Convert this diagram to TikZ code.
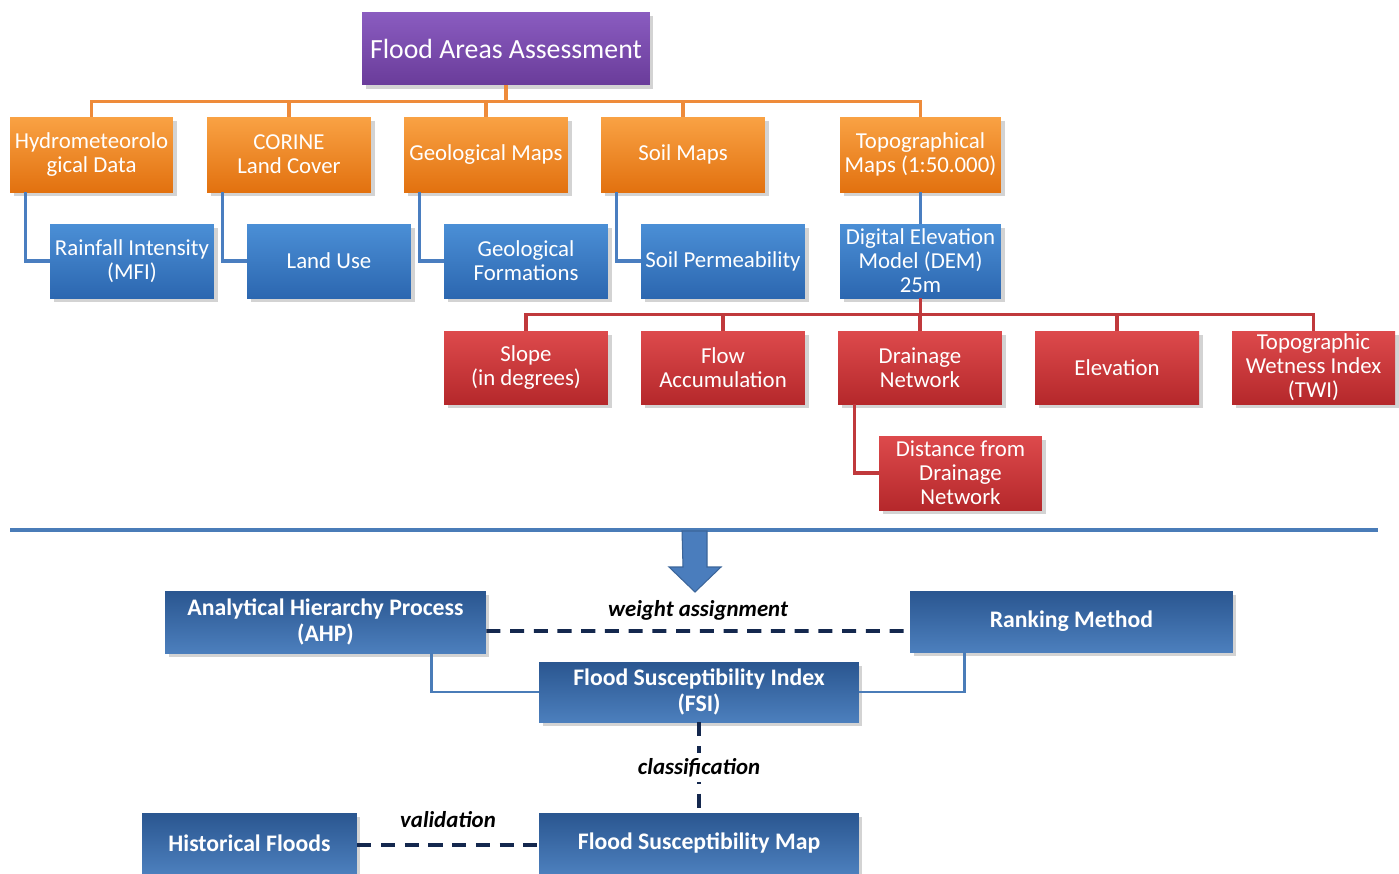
\documentclass[tikz,border=0pt]{standalone}
\usepackage{fontspec}
\setmainfont{Carlito}
\usepackage{tikz}
\usetikzlibrary{positioning, calc, shadows}
\definecolor{plumtop}{HTML}{8A5CC0}
\definecolor{plumbot}{HTML}{6A3C9A}
\definecolor{orgtop}{HTML}{F9A244}
\definecolor{orgbot}{HTML}{E2710F}
\definecolor{orgline}{HTML}{EE8B3A}
\definecolor{skytop}{HTML}{4B8FD6}
\definecolor{skybot}{HTML}{2C67B0}
\definecolor{skyline}{HTML}{4A7EC0}
\definecolor{redtop}{HTML}{DD4A4C}
\definecolor{redbot}{HTML}{B5282B}
\definecolor{redline}{HTML}{C0393C}
\definecolor{navytop}{HTML}{2A5690}
\definecolor{navybot}{HTML}{4C7FBD}
\definecolor{navyline}{HTML}{4A7CB8}
\definecolor{dashnavy}{HTML}{14284E}
\definecolor{arrowblue}{HTML}{4A7DBD}
\tikzset{
  boxx/.style={rectangle, text=white, align=center, inner sep=1pt,
               font=\fontsize{13}{13.7}\selectfont,
               drop shadow={shadow xshift=2pt, shadow yshift=-2pt, opacity=0.35}},
  plumbox/.style={boxx, top color=plumtop, bottom color=plumbot,
                  minimum width=5.76cm, minimum height=1.46cm,
                  font=\fontsize{15.8}{17}\selectfont},
  orgbox/.style={boxx, top color=orgtop, bottom color=orgbot,
                 minimum width=3.28cm, minimum height=1.50cm},
  skybox/.style={boxx, top color=skytop, bottom color=skybot,
                 minimum width=3.28cm, minimum height=1.48cm},
  redbox/.style={boxx, top color=redtop, bottom color=redbot,
                 minimum width=3.28cm, minimum height=1.46cm},
  navybox/.style={boxx, top color=navytop, bottom color=navybot,
                  minimum height=1.22cm,
                  font=\fontsize{13.5}{15}\selectfont\bfseries},
  olink/.style={draw=orgline, line width=2pt},
  blink/.style={draw=skyline, line width=2pt},
  rlink/.style={draw=redline, line width=2pt},
  nlink/.style={draw=navyline, line width=1.6pt},
  dlink/.style={draw=dashnavy, line width=2.2pt, dash pattern=on 8pt off 5.5pt},
  lbl/.style={font=\fontsize{13}{15}\selectfont\bfseries\itshape, text=black, inner sep=1pt},
}

\begin{document}
\begin{tikzpicture}[x=0.02cm, y=-0.02cm]
  \useasboundingbox (0,0) rectangle (1399,873);
  % top of the tree
  \node[plumbox] (top) at (506,48.5) {Flood Areas Assessment};
  % data sources
  \node[orgbox, minimum width=3.26cm] (hydro) at (91.5,154.5) {Hydrometeorolo\\gical Data};
  \node[orgbox] (corine) at (289,154.5) {CORINE\\Land Cover};
  \node[orgbox] (geomap) at (486,154.5) {Geological Maps};
  \node[orgbox] (soil) at (683,154.5) {Soil Maps};
  \node[orgbox, minimum width=3.22cm] (topo) at (920.5,154.5) {Topographical\\Maps (1:50.000)};
  \foreach \n in {hydro,corine,geomap,soil,topo}
    \draw[olink] (top.south) -- ++(0,16) -| (\n.north);
  % derived layers
  \node[skybox] (rain) at (132,261) {Rainfall Intensity\\(MFI)};
  \node[skybox] (landuse) at (329,261) {Land Use};
  \node[skybox] (geoform) at (526,261) {Geological\\Formations};
  \node[skybox] (soilperm) at (723,261) {Soil Permeability};
  \node[skybox, minimum width=3.22cm] (dem) at (920.5,261) {Digital Elevation\\Model (DEM)\\25m};
  \draw[blink] ($(hydro.south west)+(16,0)$) |- (rain.west);
  \draw[blink] ($(corine.south west)+(16,0)$) |- (landuse.west);
  \draw[blink] ($(geomap.south west)+(16,0)$) |- (geoform.west);
  \draw[blink] ($(soil.south west)+(16,0)$) |- (soilperm.west);
  \draw[blink] (topo) -- (dem);
  % DEM products
  \node[redbox] (slope) at (526,367.5) {Slope\\(in degrees)};
  \node[redbox] (flow) at (723,367.5) {Flow\\Accumulation};
  \node[redbox] (drain) at (920,367.5) {Drainage\\Network};
  \node[redbox] (elev) at (1117,367.5) {Elevation};
  \node[redbox, minimum width=3.26cm] (twi) at (1313.5,367.5) {Topographic\\Wetness Index\\(TWI)};
  \node[redbox, minimum width=3.26cm, minimum height=1.48cm] (dist) at (960.5,473) {Distance from\\Drainage\\Network};
  \foreach \n in {slope,flow,drain,elev,twi}
    \draw[rlink] (dem.south) -- ++(0,16) -| (\n.north);
  \draw[rlink] ($(drain.south west)+(17,0)$) |- (dist.west);
  % separator and arrow
  \coordinate (sepL) at (10,530);
  \coordinate (sepR) at (1378,530);
  \draw[draw=navyline, line width=1.8pt] (sepL) -- (sepR);
  \filldraw[fill=arrowblue, draw=skyline!80!black, line width=0.6pt]
    (682,531) -- (707,531) -- (707,567) -- (721,567) -- (695,592)
    -- (669,567) -- (683,567) -- cycle;
  % analysis
  \node[navybox, minimum width=6.42cm, minimum height=1.24cm] (ahp) at (325.5,622) {Analytical Hierarchy Process\\(AHP)};
  \node[navybox, minimum width=6.46cm] (rank) at (1071.5,621.5) {Ranking Method};
  \node[navybox, minimum width=6.40cm, minimum height=1.20cm] (fsi) at (699,692) {Flood Susceptibility Index\\(FSI)};
  \node[navybox, minimum width=4.30cm, minimum height=1.20cm] (hist) at (249.5,843) {Historical Floods};
  \node[navybox, minimum width=6.40cm, minimum height=1.20cm] (fsm) at (699,843) {Flood Susceptibility Map};
  \draw[nlink] ($(ahp.south west)+(267,0)$) |- (fsi.west);
  \draw[nlink] ($(rank.south west)+(55,0)$) |- (fsi.east);
  \draw[dlink] ($(ahp.east)+(0,9)$) -- ($(rank.west)+(0,9.5)$)
    node[lbl, midway, yshift=0.42cm] {weight assignment};
  \draw[dlink] (fsi.south) -- (fsm.north)
    node[lbl, midway, fill=white, inner sep=3pt] {classification};
  \draw[dlink] ($(hist.east)+(0,2)$) -- ($(fsm.west)+(0,2)$)
    node[lbl, midway, yshift=0.50cm] {validation};
\end{tikzpicture}
\end{document}
